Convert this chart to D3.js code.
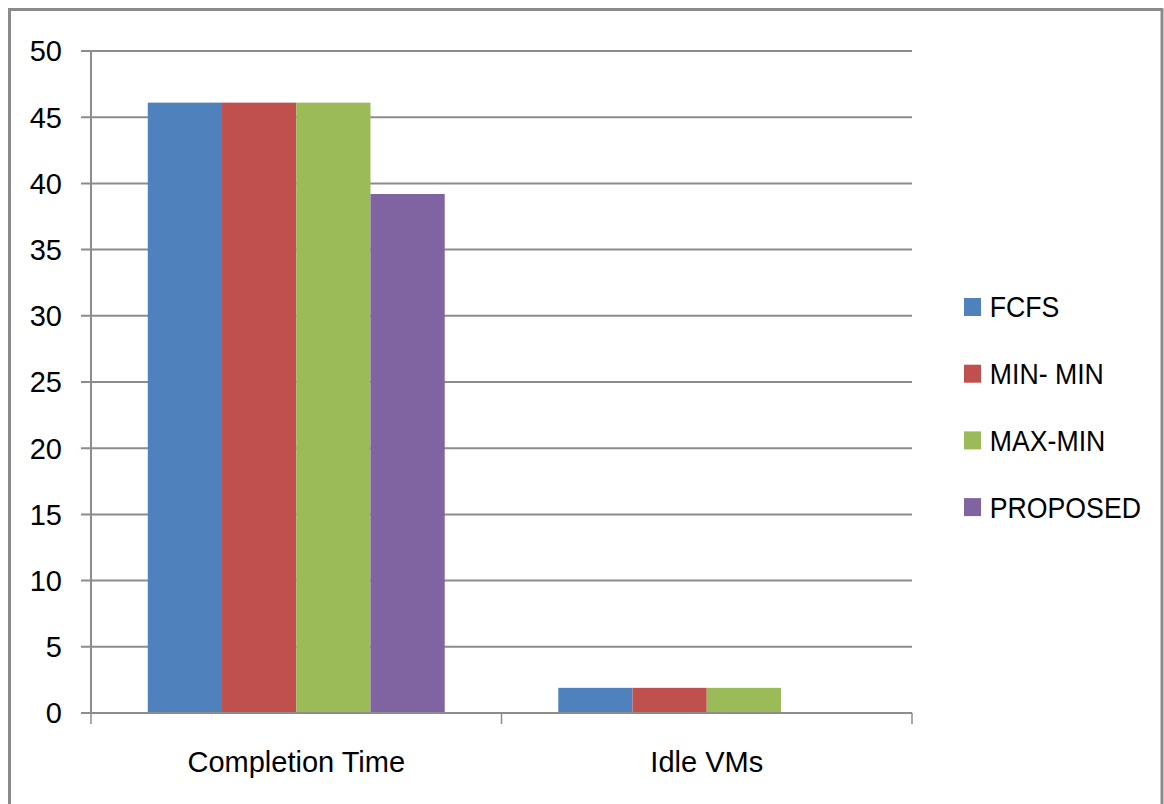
<!DOCTYPE html>
<html><head><meta charset="utf-8">
<script src="https://cdn.jsdelivr.net/npm/d3@7"></script>
<style>body{margin:0;background:#fff}svg{display:block}</style>
</head><body>
<script>
const categories = ["Completion Time", "Idle VMs"];
const seriesNames = ["FCFS", "MIN- MIN", "MAX-MIN", "PROPOSED"];
const FCFS = [46.1, 1.9];
const MINMIN = [46.1, 1.9];
const MAXMIN = [46.1, 1.9];
const PROPOSED = [39.2, 0];
const yTicks = [0, 5, 10, 15, 20, 25, 30, 35, 40, 45, 50];
const colors = ["#4F81BD", "#C0504D", "#9BBB59", "#8064A2"];

(function () {
const seriesValues = [FCFS, MINMIN, MAXMIN, PROPOSED];
const W = 1164, H = 804;
const font = "'Liberation Sans',Arial,sans-serif";
const svg = d3.select("body").append("svg").attr("width", W).attr("height", H);

// outer frame
svg.append("rect").attr("x", 9.5).attr("y", 9.5).attr("width", 1152.5).attr("height", 820)
  .attr("fill", "#fff").attr("stroke", "#8a8a8a").attr("stroke-width", 3);

const pl = 91, pr = 912, pt = 51, pb = 713;
const y = d3.scaleLinear().domain([0, 50]).range([pb, pt]);
const x0 = d3.scaleBand().domain(categories).range([pl, pr]).paddingInner(0).paddingOuter(0);
const x1 = d3.scaleBand().domain(seriesNames).range([0, x0.bandwidth()]).paddingInner(0).paddingOuter(0.765);

// gridlines
svg.append("g").selectAll("line").data(yTicks).join("line")
  .attr("x1", pl - 10).attr("x2", pr).attr("y1", d => y(d)).attr("y2", d => y(d))
  .attr("stroke", "#8c8c8c").attr("stroke-width", 2);

// y axis line
svg.append("line").attr("x1", pl).attr("x2", pl).attr("y1", pt).attr("y2", pb)
  .attr("stroke", "#8c8c8c").attr("stroke-width", 2);

// y labels
svg.append("g").selectAll("text").data(yTicks).join("text")
  .attr("x", 62).attr("y", d => y(d)).attr("dy", "0.36em")
  .attr("text-anchor", "end").attr("font-family", font).attr("font-size", 29)
  .attr("fill", "#000").text(d => d);

// bars
const groups = svg.append("g").selectAll("g").data(seriesNames).join("g")
  .attr("fill", (d, i) => colors[i]);
groups.selectAll("rect").data((s, i) => categories.map((c, j) => ({c, s, v: seriesValues[i][j]})))
  .join("rect")
  .attr("x", d => x0(d.c) + x1(d.s)).attr("width", x1.bandwidth())
  .attr("y", d => y(d.v)).attr("height", d => pb - y(d.v));

// x axis line and ticks
svg.append("line").attr("x1", pl).attr("x2", pr).attr("y1", pb).attr("y2", pb)
  .attr("stroke", "#8c8c8c").attr("stroke-width", 2);
const xTickPos = categories.map(c => x0(c)).concat([pr]);
svg.append("g").selectAll("line").data(xTickPos).join("line")
  .attr("x1", d => d).attr("x2", d => d).attr("y1", pb).attr("y2", pb + 11)
  .attr("stroke", "#8c8c8c").attr("stroke-width", 1.5);

// x labels
svg.append("g").selectAll("text").data(categories).join("text")
  .attr("x", d => x0(d) + x0.bandwidth() / 2).attr("y", 762).attr("dy", "0.36em")
  .attr("text-anchor", "middle").attr("font-family", font).attr("font-size", 29)
  .attr("fill", "#000").text(d => d);

// legend
const leg = svg.append("g").selectAll("g").data(seriesNames).join("g")
  .attr("transform", (d, i) => `translate(964, ${307 + i * 66.7})`);
leg.append("rect").attr("x", 0).attr("y", -9).attr("width", 17).attr("height", 18)
  .attr("fill", (d, i) => colors[i]);
leg.append("text").attr("x", 26).attr("y", 0).attr("dy", "0.36em")
  .attr("transform", "scale(0.92,1)").attr("dx", 2)
  .attr("font-family", font).attr("font-size", 29).attr("fill", "#000").text(d => d);
})();
</script>
</body></html>
